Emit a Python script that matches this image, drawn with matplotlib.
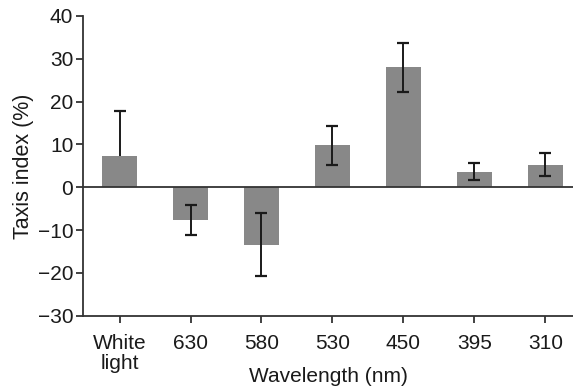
import numpy as np
import matplotlib
matplotlib.use("Agg")
import matplotlib.pyplot as plt

plt.rcParams['font.family'] = ['Liberation Sans', 'DejaVu Sans']

labels = ["White\nlight", "630", "580", "530", "450", "395", "310"]
means = [7.2, -7.7, -13.4, 9.8, 28.0, 3.6, 5.2]
err_low = [0.0, 3.4, 7.4, 4.7, 5.8, 1.8, 2.6]
err_high = [10.5, 3.6, 7.3, 4.6, 5.6, 2.1, 2.7]

fig = plt.figure(figsize=(5.73, 3.88), dpi=100)
ax = fig.add_axes([0.145, 0.186, 0.855, 0.773])

x = np.arange(len(labels))
dark = '#1a1a1a'

ax.bar(x, means, width=0.5, color='#888888', zorder=2)
eb = ax.errorbar(x, means, yerr=[err_low, err_high], fmt='none', ecolor=dark,
                 elinewidth=1.4, capsize=4.5, capthick=1.6, zorder=3)
# no lower cap where there is no lower error
low_cap = eb[1][0]
cx, cy = low_cap.get_data()
keep = np.array(err_low) > 0
low_cap.set_data(np.asarray(cx)[keep], np.asarray(cy)[keep])

ax.axhline(0, color='#333333', lw=1.3, zorder=4)

ax.set_xlim(-0.514, 6.39)
ax.set_ylim(-30, 40)
ax.set_yticks([-30, -20, -10, 0, 10, 20, 30, 40])
ax.set_yticklabels(['\u221230', '\u221220', '\u221210', '0', '10', '20', '30', '40'])
ax.set_xticks(x)
ax.set_xticklabels(labels, linespacing=1.05)

for s in ['top', 'right']:
    ax.spines[s].set_visible(False)
for s in ['left', 'bottom']:
    ax.spines[s].set_color('#333333')
    ax.spines[s].set_linewidth(1.3)

ax.tick_params(axis='both', direction='out', length=5, width=1.3, color='#333333',
               labelsize=15, labelcolor=dark)
ax.tick_params(axis='x', pad=8)
ax.tick_params(axis='y', pad=2)

ax.set_ylabel('Taxis index (%)', fontsize=15.5, color=dark, labelpad=3)
ax.set_xlabel('Wavelength (nm)', fontsize=15, color=dark)
ax.xaxis.set_label_coords(0.5, -0.172)

fig.savefig('out.png', dpi=100)
